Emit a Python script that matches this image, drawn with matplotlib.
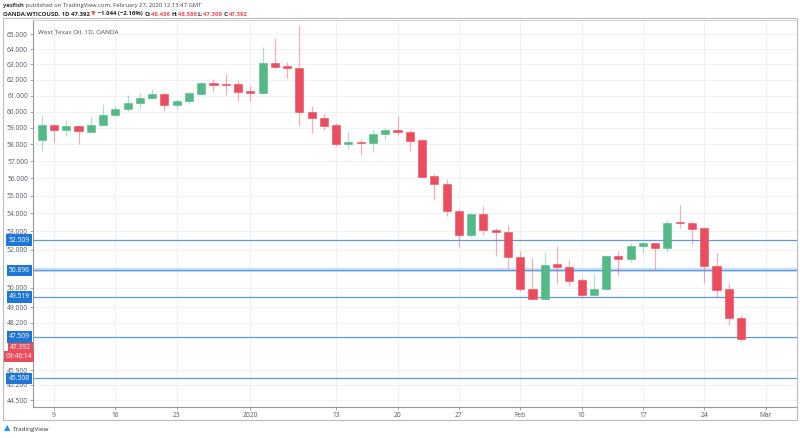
import numpy as np
import pandas as pd
import matplotlib
import matplotlib.pyplot as plt
from matplotlib.patches import Rectangle
from matplotlib.ticker import FixedLocator, FixedFormatter, NullLocator
from matplotlib.transforms import blended_transform_factory

matplotlib.use('Agg')

# daily bars from 2019-12-06 to 2020-02-27 (no bars on Dec 25 and Jan 1)
opens = [58.24, 59.14, 58.85, 59.08, 58.77, 59.20, 59.76, 60.15, 60.54, 60.83,
         61.11, 60.41, 60.64, 61.13, 61.80, 61.74, 61.72, 61.26, 61.18, 63.07,
         62.89, 62.74, 59.98, 59.62, 59.14, 58.04, 58.14, 58.08, 58.61, 58.84,
         58.73, 58.23, 56.13, 55.69, 54.15, 52.78, 53.95, 53.08, 52.97, 51.60,
         49.91, 49.43, 51.21, 51.10, 50.37, 49.64, 49.91, 51.68, 51.51, 52.18,
         52.34, 52.09, 53.49, 53.48, 53.19, 51.15, 49.90, 48.436]
highs = [59.80, 59.17, 59.50, 59.20, 59.66, 60.47, 60.32, 61.02, 61.18, 61.44,
         61.21, 60.80, 61.20, 61.87, 62.03, 62.36, 62.00, 61.59, 64.15, 64.73,
         63.15, 65.62, 60.36, 59.82, 59.30, 58.73, 58.34, 58.90, 59.00, 59.70,
         58.84, 58.33, 56.24, 55.94, 54.23, 54.04, 54.39, 53.19, 53.37, 51.95,
         51.56, 51.89, 52.18, 51.47, 50.51, 50.72, 51.74, 51.95, 52.37, 52.40,
         52.37, 53.64, 54.47, 53.59, 53.24, 51.83, 50.24, 48.586]
lows = [57.60, 58.14, 58.49, 58.04, 58.72, 59.18, 59.74, 60.06, 60.25, 60.80,
        60.04, 60.15, 60.47, 61.06, 61.24, 61.06, 60.64, 60.64, 61.11, 62.68,
        62.13, 59.13, 58.70, 58.85, 57.88, 57.69, 57.35, 57.52, 58.25, 58.57,
        57.58, 56.06, 54.73, 53.82, 52.13, 52.67, 52.78, 51.65, 50.96, 49.81,
        49.34, 49.42, 50.21, 50.07, 49.45, 49.62, 49.89, 50.59, 51.33, 51.83,
        50.92, 51.90, 53.19, 52.32, 50.25, 49.52, 48.11, 47.309]
closes = [59.14, 58.85, 59.08, 58.79, 59.20, 59.78, 60.17, 60.54, 60.86, 61.11,
          60.41, 60.69, 61.18, 61.80, 61.70, 61.65, 61.21, 61.18, 63.07, 62.85,
          62.74, 59.96, 59.58, 59.12, 58.02, 58.14, 58.06, 58.63, 58.84, 58.73,
          58.18, 56.07, 55.68, 54.13, 52.78, 53.95, 53.08, 52.95, 51.60, 49.90,
          49.43, 51.19, 51.09, 50.33, 49.64, 49.95, 51.68, 51.51, 52.21, 52.34,
          52.11, 53.46, 53.45, 53.13, 51.12, 49.86, 48.44, 47.392]

level_lines = [52.509, 50.896, 49.519, 47.509, 45.508]
price_ticks = [65, 64, 63, 62, 61, 60, 59, 58, 57, 56, 55, 54, 53, 52,
               50, 49, 48.2, 45.9, 45.2, 44.5]
date_ticks = ['2019-12-09', '2019-12-16', '2019-12-23', '2020-01-02',
              '2020-01-13', '2020-01-20', '2020-01-27', '2020-02-03',
              '2020-02-10', '2020-02-17', '2020-02-24', '2020-03-02']
date_tick_labels = ['9', '16', '23', '2020', '13', '20', '27', 'Feb',
                    '10', '17', '24', 'Mar']
countdown = '09:46:14'

UP = '#53b987'
DOWN = '#eb4d5c'
LEVEL = '#5b9be6'
TXT = '#4f5966'

plt.rcParams['font.family'] = ['Open Sans', 'DejaVu Sans']

days = pd.bdate_range('2019-12-06', '2020-03-06')
days = days.drop(pd.to_datetime(['2019-12-25', '2020-01-01']))
day_pos = {d.strftime('%Y-%m-%d'): i for i, d in enumerate(days)}

fig = plt.figure(figsize=(8, 4.38), dpi=100)
W, H = 800, 438
ax = fig.add_axes([33 / W, 31 / H, 764 / W, 387 / H])

o = np.array(opens)
h = np.array(highs)
l = np.array(lows)
c = np.array(closes)
x = np.arange(len(o))
col = [UP if cc >= oo else DOWN for oo, cc in zip(o, c)]

ax.vlines(x, l, h, colors=col, lw=0.9, alpha=0.45, zorder=3)
bot = np.minimum(o, c)
hgt = np.maximum(np.abs(c - o), 0.035)
ax.bar(x, hgt, bottom=bot, width=0.66, color=col, edgecolor=col, lw=0.4, zorder=4)

ax.set_yscale('log')
ax.set_ylim(44.18, 65.97)
ax.set_xlim(-0.71, 61.56)

ax.yaxis.set_major_locator(FixedLocator(price_ticks))
ax.yaxis.set_major_formatter(FixedFormatter(['%.3f' % v for v in price_ticks]))
ax.yaxis.set_minor_locator(NullLocator())
ax.set_xticks([day_pos[d] for d in date_ticks])
ax.set_xticklabels(date_tick_labels)
ax.tick_params(axis='both', labelsize=4.8, labelcolor=TXT, color='#9598a1',
               length=2, width=0.6, pad=1.5)
ax.grid(True, color='#eef1f6', lw=0.8)
ax.set_axisbelow(True)
for side in ['left', 'bottom']:
    ax.spines[side].set_color('#9598a1')
    ax.spines[side].set_linewidth(0.8)
for side in ['top', 'right']:
    ax.spines[side].set_color('#c8cbd2')
    ax.spines[side].set_linewidth(0.6)

# last price and bar countdown (drawn first, blue level labels sit on top)
lab_tr = blended_transform_factory(ax.transAxes, ax.transData)
ax.annotate('%.3f' % closes[-1], xy=(0, closes[-1]), xycoords=lab_tr,
            xytext=(-1.5, -5.6), textcoords='offset points', ha='right', va='center',
            fontsize=4.8, color='white', annotation_clip=False, zorder=5,
            bbox=dict(boxstyle='square,pad=0.3', fc=DOWN, ec='none'))
ax.annotate(countdown, xy=(0, closes[-1]), xycoords=lab_tr,
            xytext=(-0.5, -12.2), textcoords='offset points', ha='right', va='center',
            fontsize=4.8, color='white', annotation_clip=False, zorder=5,
            bbox=dict(boxstyle='square,pad=0.3', fc=DOWN, ec='none'))

# horizontal levels with their price-scale labels
for lv in level_lines:
    if lv == 50.896:
        ax.axhline(lv, color='#cfe0f6', lw=3, zorder=2)
    ax.axhline(lv, color=LEVEL, lw=0.9, zorder=2)
    ax.text(-0.004, lv, '%.3f' % lv, transform=lab_tr, ha='right', va='center',
            fontsize=4.8, color='white', zorder=6, clip_on=False,
            bbox=dict(boxstyle='square,pad=0.35', fc='#1f77d4', ec='none'))

ax.text(0.007, 0.975, 'West Texas Oil, 1D, OANDA', transform=ax.transAxes,
        ha='left', va='top', fontsize=4.6, color='#4a4a4a')

# outer frame of the price and time scales
fig.patches.append(Rectangle((3 / W, 18 / H), 794 / W, 402 / H, transform=fig.transFigure,
                             fill=False, ec='#b8bbc2', lw=0.8))


def text_row(xp, yp, parts, size):
    fig.canvas.draw()
    r = fig.canvas.get_renderer()
    xf = xp / W
    for s, color, weight in parts:
        t = fig.text(xf, 1 - yp / H, s, color=color, fontsize=size, fontweight=weight,
                     ha='left', va='center')
        xf += t.get_window_extent(r).width / fig.bbox.width


text_row(3, 6, [('yesfish', '#333333', 'bold'),
                (' published on TradingView.com, February 27, 2020 12:13:47 GMT', '#444444', 'normal')], 4.2)
text_row(3, 14, [('OANDA:WTICOUSD, 1D ', '#222222', 'bold'),
                 ('47.392 ', '#222222', 'bold'),
                 ('\u25BC', DOWN, 'bold'),
                 (' \u22121.044 (\u22122.16%) ', '#222222', 'bold'),
                 ('O:', '#222222', 'bold'), ('48.436 ', DOWN, 'bold'),
                 ('H:', '#222222', 'bold'), ('48.586 ', DOWN, 'bold'),
                 ('L:', '#222222', 'bold'), ('47.309 ', DOWN, 'bold'),
                 ('C:', '#222222', 'bold'), ('47.392', DOWN, 'bold')], 4.3)
fig.text(4 / W, 1 - 429 / H, '\u25B2', color='#2196f3', fontsize=6, ha='left', va='center')
fig.text(13 / W, 1 - 429 / H, 'TradingView', color='#333333', fontsize=4.6, ha='left', va='center')

fig.savefig('out.png', dpi=100)
